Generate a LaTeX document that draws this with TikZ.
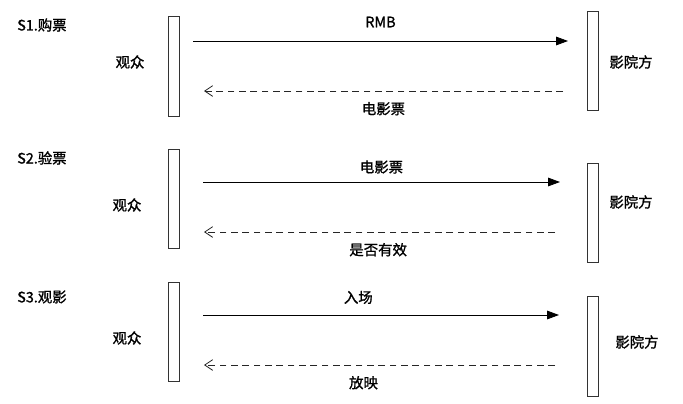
\documentclass[tikz,border=0pt]{standalone}
\usepackage{fontspec}
\setmainfont{Noto Sans CJK SC}[FakeBold=1.2]
\usetikzlibrary{arrows.meta}
\begin{document}
\begin{tikzpicture}[x=0.75pt,y=-0.75pt,
  bar/.style={draw=black!80,fill=white,line width=0.6pt,minimum width=8.25pt,minimum height=74.5pt,inner sep=0pt,outer sep=0pt},
  lbl/.style={font=\fontsize{10.8}{12}\selectfont,inner sep=0pt},
  msg/.style={draw=black,line width=0.6pt,-{Triangle[length=9pt,width=6.5pt]}},
  reply/.style={draw=black!85,line width=0.6pt,dash pattern=on 5pt off 3.5pt,-{Straight Barb[length=6pt,width=8pt,line width=0.6pt]}}]
\useasboundingbox[fill=white] (0,0) rectangle (683,404);
% ---------- S1
\node[lbl,anchor=west] (s1) at (17,25) {S1.购票};
\node[bar] (a1) at (173.5,66.5) {};
\node[bar] (b1) at (592.5,61) {};
\node[lbl] (u1) at (130,62) {观众};
\node[lbl] (c1) at (631,62) {影院方};
\coordinate (p1s) at (193,41);
\coordinate (p1e) at (568,41);
\coordinate (q1s) at (563,91);
\coordinate (q1e) at (204,91);
\draw[msg] (p1s) -- (p1e) node[lbl,midway,above=10pt] (m1) {RMB};
\draw[reply] (q1s) -- (q1e) node[lbl,midway,below=8pt] (r1) {电影票};
% ---------- S2
\node[lbl,anchor=west] (s2) at (17,158) {S2.验票};
\node[bar] (a2) at (173.5,199) {};
\node[bar] (b2) at (592.5,213) {};
\node[lbl] (u2) at (127,205) {观众};
\node[lbl] (c2) at (631,202) {影院方};
\coordinate (p2s) at (203,182);
\coordinate (p2e) at (560,182);
\coordinate (q2s) at (555,232);
\coordinate (q2e) at (204,232);
\draw[msg] (p2s) -- (p2e) node[lbl,midway,above=6pt] (m2) {电影票};
\draw[reply] (q2s) -- (q2e) node[lbl,midway,below=8pt,xshift=-1pt] (r2) {是否有效};
% ---------- S3
\node[lbl,anchor=west] (s3) at (17,297) {S3.观影};
\node[bar] (a3) at (173.5,332) {};
\node[bar] (b3) at (592.5,346.5) {};
\node[lbl] (u3) at (127,338) {观众};
\node[lbl] (c3) at (637,342) {影院方};
\coordinate (p3s) at (203,315);
\coordinate (p3e) at (559,315);
\coordinate (q3s) at (555,365);
\coordinate (q3e) at (204,365);
\draw[msg] (p3s) -- (p3e) node[lbl,midway,above=8pt,xshift=-17pt] (m3) {入场};
\draw[reply] (q3s) -- (q3e) node[lbl,midway,below=8pt,xshift=-12pt] (r3) {放映};
\end{tikzpicture}
\end{document}
